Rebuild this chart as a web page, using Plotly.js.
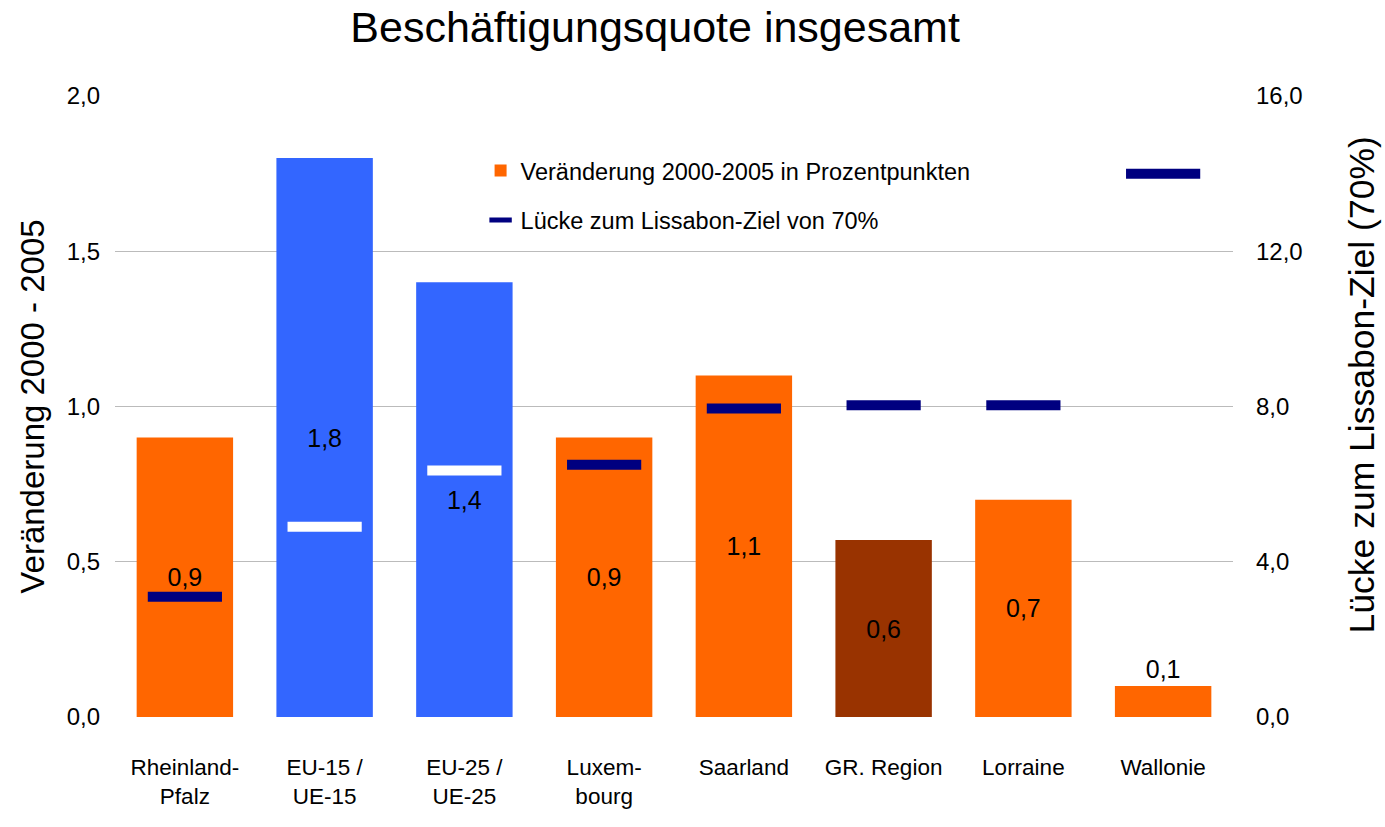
<!DOCTYPE html>
<html>
<head>
<meta charset="utf-8">
<script src="https://cdn.plot.ly/plotly-3.0.1.min.js"></script>
<style>
  html, body { margin: 0; padding: 0; background: #ffffff; }
  #chart { width: 1385px; height: 827px; }
</style>
</head>
<body>
<div id="chart"></div>
<script>
// ---- data ----
const categories = ['Rheinland-<br>Pfalz', 'EU-15 /<br>UE-15', 'EU-25 /<br>UE-25', 'Luxem-<br>bourg', 'Saarland', 'GR. Region', 'Lorraine', 'Wallonie'];
const changeValues = [0.9, 1.8, 1.4, 0.9, 1.1, 0.57, 0.7, 0.1];
const gapValues = [3.1, 4.9, 6.35, 6.5, 7.95, 8.03, 8.03, 14.0];
const leftTicks = [0, 0.5, 1, 1.5, 2];
const rightTicks = [0, 4, 8, 12, 16];
const seriesNames = ['Veränderung 2000-2005 in Prozentpunkten', 'Lücke zum Lissabon-Ziel von 70%'];
const titleText = 'Beschäftigungsquote insgesamt';
const leftAxisTitle = 'Veränderung 2000 - 2005';
const rightAxisTitle = 'Lücke zum Lissabon-Ziel (70%)';

// ---- styles ----
const barColors = ['#FF6600', '#3366FF', '#3366FF', '#FF6600', '#FF6600', '#993300', '#FF6600', '#FF6600'];
const markColors = ['#000080', '#FFFFFF', '#FFFFFF', '#000080', '#000080', '#000080', '#000080', '#000080'];
const textPos = ['inside', 'inside', 'inside', 'inside', 'inside', 'inside', 'inside', 'outside'];
const font = '"Liberation Sans", Arial, sans-serif';

const traces = [
  {
    type: 'bar',
    x: categories,
    y: changeValues,
    name: seriesNames[0],
    legendgroup: 'a',
    marker: { color: barColors, line: { width: 0 } },
    texttemplate: '%{y:.1f}',
    textposition: textPos,
    insidetextanchor: 'middle',
    constraintext: 'none',
    cliponaxis: false,
    textfont: { family: font, size: 25, color: '#000000' },
    hoverinfo: 'skip'
  },
  {
    type: 'scatter',
    mode: 'markers',
    x: categories,
    y: gapValues,
    yaxis: 'y2',
    name: seriesNames[1],
    legendgroup: 'b',
    cliponaxis: false,
    marker: { symbol: 'line-ew', size: 53, color: markColors, line: { color: markColors, width: 10 } },
    hoverinfo: 'skip'
  }
];

const layout = {
  width: 1385,
  height: 827,
  paper_bgcolor: '#ffffff',
  plot_bgcolor: '#ffffff',
  separators: ',.',
  margin: { l: 115, r: 152, t: 96, b: 110 },
  title: {
    text: titleText,
    font: { family: font, size: 43, color: '#000000' },
    x: 0.473, xref: 'container', xanchor: 'center',
    y: 0.968, yref: 'container', yanchor: 'middle'
  },
  bargap: 0.31,
  showlegend: true,
  legend: {
    x: 0.327, y: 0.915, xanchor: 'left', yanchor: 'top',
    bgcolor: 'rgba(0,0,0,0)',
    font: { family: font, size: 23.5, color: '#000000' },
    tracegroupgap: 16,
    itemwidth: 30
  },
  xaxis: {
    type: 'category',
    range: [-0.5, 7.5],
    automargin: false,
    tickfont: { family: font, size: 22.5, color: '#000000' },
    showgrid: false,
    showline: false,
    ticks: '',
    ticklabelstandoff: 34
  },
  yaxis: {
    range: [0, 2],
    automargin: false,
    tickvals: leftTicks,
    tickformat: '.1f',
    tickfont: { family: font, size: 24, color: '#000000' },
    showgrid: true,
    gridcolor: '#BBBBBB',
    gridwidth: 1.3,
    zeroline: false,
    showline: false,
    ticks: '',
    ticklabelstandoff: 14,
    title: { text: leftAxisTitle, font: { family: font, size: 33, color: '#000000' }, standoff: 12 }
  },
  yaxis2: {
    range: [0, 16],
    overlaying: 'y',
    side: 'right',
    automargin: false,
    tickvals: rightTicks,
    tickformat: '.1f',
    tickfont: { family: font, size: 24, color: '#000000' },
    showgrid: false,
    zeroline: false,
    showline: false,
    ticks: '',
    ticklabelstandoff: 22
  },
  annotations: [
    {
      text: rightAxisTitle,
      xref: 'paper', yref: 'paper',
      x: 1.1154, y: 0.534,
      xanchor: 'center', yanchor: 'middle',
      textangle: -90,
      showarrow: false,
      font: { family: font, size: 35.5, color: '#000000' }
    }
  ]
};

Plotly.newPlot('chart', traces, layout, { displayModeBar: false, staticPlot: true });
</script>
</body>
</html>
